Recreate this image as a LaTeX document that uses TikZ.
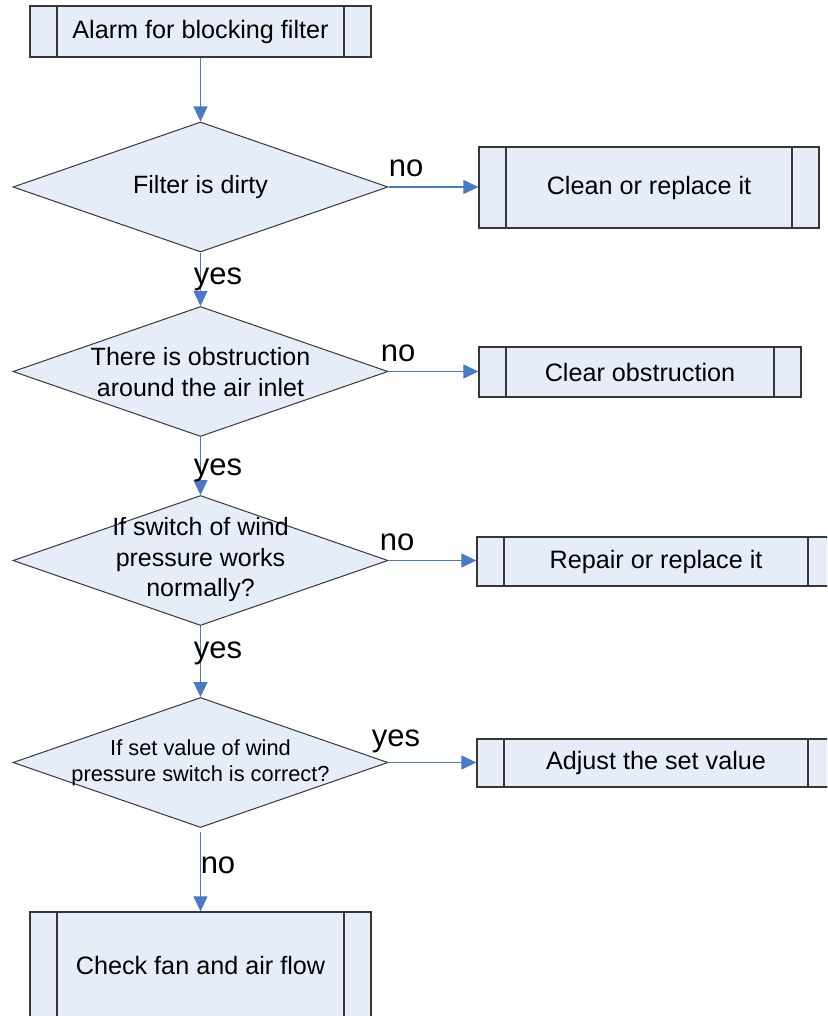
\documentclass[tikz,border=0pt]{standalone}
\usepackage{fontspec}
\setmainfont{Liberation Sans}
\usetikzlibrary{shapes.geometric,arrows.meta}
\definecolor{boxfill}{RGB}{231,237,248}
\definecolor{boxline}{RGB}{55,55,55}
\definecolor{arrblue}{RGB}{72,122,198}
\tikzset{
  procbox/.style={draw=boxline, fill=boxfill, line width=1.3pt, rectangle, inner sep=0pt,
    font=\fontsize{25.2}{30}\selectfont,
    path picture={
      \draw[boxline, line width=1.3pt]
        ([xshift=27pt]path picture bounding box.north west) -- ([xshift=27pt]path picture bounding box.south west)
        ([xshift=-27pt]path picture bounding box.north east) -- ([xshift=-27pt]path picture bounding box.south east);
    }},
  decision/.style={draw=boxline, fill=boxfill, line width=1pt, diamond, inner sep=0pt,
    minimum width=375pt, minimum height=130pt},
  dtext/.style={align=center, font=\fontsize{25}{30.5}\selectfont, inner sep=0pt},
  lbl/.style={font=\fontsize{31}{34}\selectfont, inner sep=0pt},
  arr/.style={draw=arrblue, line width=1.2pt, -{Triangle[length=15pt,width=14pt]}, arrblue}
}
\begin{document}
\begin{tikzpicture}[x=1pt,y=-1pt]
\clip (0,0) rectangle (827,1016);
\fill[white] (0,0) rectangle (827,1016);

% process boxes
\node[procbox, minimum width=341pt, minimum height=51pt] (top) at (200.5,31.5) {Alarm for blocking filter};
\node[procbox, minimum width=340pt, minimum height=81pt] (b2) at (649,187.5) {Clean or replace it};
\node[procbox, minimum width=322pt, minimum height=50pt] (b3) at (640,372) {Clear obstruction};
\node[procbox, minimum width=358pt, minimum height=49pt] (b4) at (656,561.5) {Repair or replace it};
\node[procbox, minimum width=358pt, minimum height=48pt] (b5) at (656,763) {Adjust the set value};
\node[procbox, minimum width=341pt, minimum height=106pt] (bot) at (200.5,965) {Check fan and air flow};

% decisions
\node[decision] (d1) at (200.5,187) {};
\node[dtext] (d1t) at (200.5,187) {Filter is dirty};
\node[decision] (d2) at (200.5,371.5) {};
\node[dtext] (d2t) at (200.5,372) {There is obstruction\\around the air inlet};
\node[decision] (d3) at (200.5,560.5) {};
\node[dtext] (d3t) at (200.5,560) {If switch of wind\\pressure works\\normally?};
\node[decision] (d4) at (200.5,762.5) {};
\node[dtext, font=\fontsize{21.8}{26.5}\selectfont] (d4t) at (200.5,763) {If set value of wind\\pressure switch is correct?};

% connectors
\draw[arr] (top.south) -- (d1.north);
\draw[arr] (d1.south) -- (d2.north);
\draw[arr] (d2.south) -- (d3.north);
\draw[arr] (d3.south) -- (d4.north);
\draw[arr, shorten <=4pt] (d4.south) -- (bot.north);
\draw[arr] (d1.east) -- (d1.east -| b2.west);
\draw[arr] (d2.east) -- (d2.east -| b3.west);
\draw[arr] (d3.east) -- (d3.east -| b4.west);
\draw[arr] (d4.east) -- (d4.east -| b5.west);

% labels
\node[lbl] (l1) at (406,168) {no};
\node[lbl] (l2) at (398,353) {no};
\node[lbl] (l3) at (397,542) {no};
\node[lbl] (l4) at (396,741) {yes};
\node[lbl] (l5) at (218,279) {yes};
\node[lbl] (l6) at (218,470) {yes};
\node[lbl] (l7) at (218,653) {yes};
\node[lbl] (l8) at (218,865) {no};
\end{tikzpicture}
\end{document}
